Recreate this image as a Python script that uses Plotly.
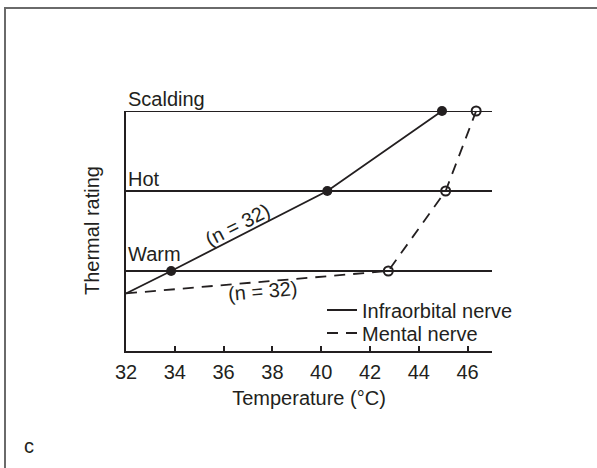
import plotly.graph_objects as go

# ---- data ----
levels = ["Warm", "Hot", "Scalding"]
level_vals = [1, 2, 3]
level_shift = [4, -1, -1]
x_ticks = [32, 34, 36, 38, 40, 42, 44, 46]
x_range = [32, 47]

infra_x = [32, 33.85, 40.25, 44.95]
infra_y = [0.72, 1, 2, 3]
mental_x = [32, 42.75, 45.1, 46.35]
mental_y = [0.72, 1, 2, 3]

FONT = "Liberation Sans, Arial, sans-serif"
INK = "#231f20"
FS = 20

W, H = 597, 468
L, R, T, B = 126, 105, 111, 117
PW, PH = W - L - R, H - T - B


def px(xp):
    return (xp - L) / PW


def py(yp):
    return (H - B - yp) / PH


fig = go.Figure()

# horizontal rating lines
for v in level_vals:
    fig.add_trace(go.Scatter(x=x_range, y=[v, v], mode="lines",
                             line=dict(color=INK, width=2), showlegend=False,
                             hoverinfo="skip"))

# series lines (legend entries)
fig.add_trace(go.Scatter(x=infra_x, y=infra_y, mode="lines", name="Infraorbital nerve",
                         line=dict(color=INK, width=1.8), legend="legend"))
fig.add_trace(go.Scatter(x=mental_x, y=mental_y, mode="lines", name="Mental nerve",
                         line=dict(color=INK, width=1.8, dash="11px,8px"), legend="legend2"))
# markers
fig.add_trace(go.Scatter(x=infra_x[1:], y=infra_y[1:], mode="markers", showlegend=False,
                         marker=dict(symbol="circle", size=10, color=INK), cliponaxis=False))
fig.add_trace(go.Scatter(x=mental_x[1:], y=mental_y[1:], mode="markers", showlegend=False,
                         marker=dict(symbol="circle-open", size=9, color=INK,
                                     line=dict(width=2, color=INK)), cliponaxis=False))

# level labels
for name, v, s in zip(levels, level_vals, level_shift):
    fig.add_annotation(x=x_range[0], y=v, text=name, showarrow=False,
                       xanchor="left", yanchor="bottom", xshift=0, yshift=s,
                       font=dict(family=FONT, size=FS, color=INK))

# n labels
fig.add_annotation(x=36.56, y=1.57, text="(n = 32)", showarrow=False, textangle=-27,
                   xanchor="center", yanchor="middle",
                   font=dict(family=FONT, size=FS, color=INK))
fig.add_annotation(x=37.58, y=0.75, text="(n = 32)", showarrow=False, textangle=-5,
                   xanchor="center", yanchor="middle",
                   font=dict(family=FONT, size=FS, color=INK))

# y title
fig.add_annotation(xref="paper", yref="paper", x=px(92), y=py(231),
                   xanchor="center", yanchor="middle",
                   text="Thermal rating", showarrow=False, textangle=-90,
                   font=dict(family=FONT, size=FS, color=INK))
# panel letter
fig.add_annotation(xref="paper", yref="paper", x=px(29), y=py(446),
                   xanchor="center", yanchor="middle",
                   text="c", showarrow=False,
                   font=dict(family=FONT, size=FS, color=INK))

# frame border
fig.add_shape(type="rect", xref="paper", yref="paper",
              x0=px(5), x1=px(610), y0=py(480), y1=py(8),
              line=dict(color="#6a6a6a", width=2), layer="below")

legend_common = dict(xanchor="left", yanchor="middle", bgcolor="rgba(0,0,0,0)",
                     font=dict(family=FONT, size=FS, color=INK), itemwidth=30,
                     borderwidth=0)

fig.update_xaxes(range=x_range, tickvals=x_ticks, ticks="inside", ticklen=5, tickwidth=2,
                 tickcolor=INK, showline=True, linecolor=INK, linewidth=2, showgrid=False,
                 zeroline=False, tickfont=dict(family=FONT, size=FS, color=INK),
                 ticklabelstandoff=2,
                 title=dict(text="Temperature (°C)", font=dict(family=FONT, size=FS, color=INK),
                            standoff=9))
fig.update_yaxes(range=[0, 3], showline=True, linecolor=INK, linewidth=2, showgrid=False,
                 zeroline=False, showticklabels=False, ticks="")

fig.update_layout(
    width=W, height=H,
    margin=dict(l=L, r=R, t=T, b=B, pad=0),
    paper_bgcolor="white", plot_bgcolor="white",
    font=dict(family=FONT, size=FS, color=INK),
    legend=dict(x=px(322), y=py(310), **legend_common),
    legend2=dict(x=px(322), y=py(333), **legend_common),
)

fig.write_html("out.html", config={"displayModeBar": False},
               post_script="document.body.style.margin='0';document.body.style.overflow='hidden';")
